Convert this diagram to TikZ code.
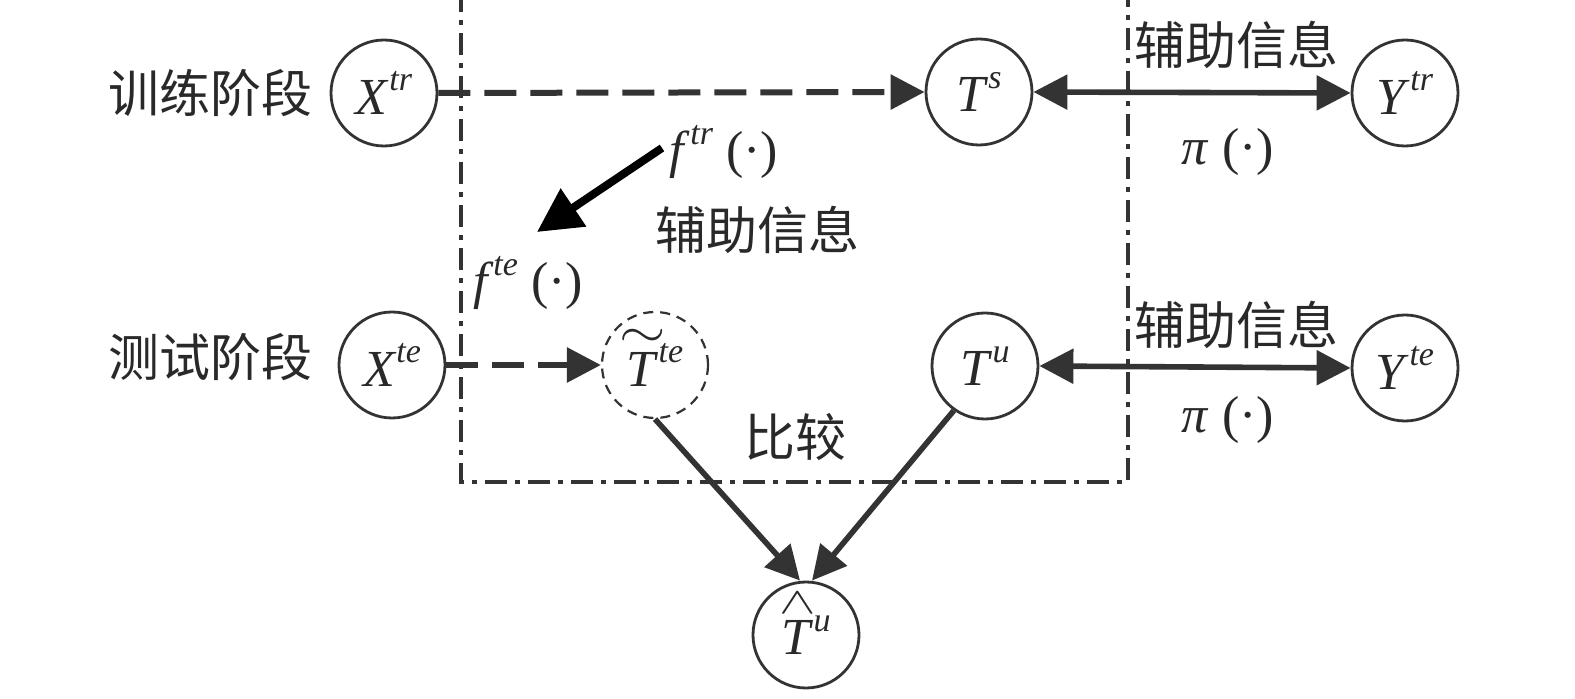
\documentclass[tikz,border=0pt]{standalone}
\usepackage{fontspec}
\setmainfont{Liberation Serif}
\newfontfamily\cjk{Noto Sans CJK SC}
\usetikzlibrary{arrows.meta}
\definecolor{lc}{RGB}{51,51,51}
\newcommand\lat{\fontsize{26}{30}\selectfont}
\newcommand\zh{\cjk\fontsize{25.5}{28}\selectfont}
\newcommand\supi[1]{\raisebox{0.45em}{\fontsize{17}{20}\selectfont\itshape #1}}
\newcommand\hatT{\ooalign{\textit{T}\cr\hidewidth\raisebox{0.78em}{\makebox[0pt]{\scalebox{1.1}[0.75]{$\wedge$}}}\hidewidth\cr}}
\newcommand\tilT{\ooalign{\textit{T}\cr\hidewidth\raisebox{0.74em}{\makebox[0pt]{\scalebox{1.2}[1]{$\sim$}}}\hidewidth\cr}}
\begin{document}
\begin{tikzpicture}[x=0.5pt,y=-0.5pt,
  st/.style={circle, draw=lc, line width=1.4pt, minimum size=53pt, inner sep=0pt, font=\lat, text=lc!80!black},
  dst/.style={st, dash pattern=on 5pt off 3.5pt, line width=1.1pt},
  tip/.style={-{Triangle[length=17pt,width=17pt]}},
  dtip/.style={{Triangle[length=17pt,width=17pt]}-{Triangle[length=17pt,width=17pt]}},
  arr/.style={draw=lc, line width=2.8pt, tip},
  darr/.style={arr, line width=3pt, dash pattern=on 16pt off 7pt},
  lab/.style={font=\zh, text=lc!80!black, inner sep=0pt},
  mlab/.style={font=\lat, text=lc!80!black, inner sep=0pt}]
\useasboundingbox (0,0) rectangle (1575,699);
% dash-dot frame
\draw[lc, line width=2pt, dash pattern=on 11pt off 4pt on 2.5pt off 4pt]
  (461,-10) -- (461,482) -- (1128,482) -- (1128,-10);
% nodes
\node[st] (xtr) at (384,93) {\textit{X}\supi{tr}};
\node[st] (ts) at (979,92) {\textit{T}\supi{s}};
\node[st] (ytr) at (1405,93) {\textit{Y}\supi{tr}};
\node[st] (xte) at (392,365) {\textit{X}\supi{te}};
\node[dst] (tt) at (655,365) {\tilT\supi{te}};
\node[st] (tu) at (985,366) {\textit{T}\supi{u}};
\node[st] (yte) at (1405,368) {\textit{Y}\supi{te}};
\node[st] (th) at (806,635) {\hatT\supi{u}};
% labels
\node[lab] (l1) at (210,93) {训练阶段};
\node[lab] (l2) at (210,357) {测试阶段};
\node[lab] (a1) at (1236,45) {辅助信息};
\node[lab] (a2) at (757,230) {辅助信息};
\node[lab] (a3) at (1236,325) {辅助信息};
\node[lab] (cmp) at (795,437) {比较};
\node[mlab] (p1) at (1228,152) {\textit{π} (·)};
\node[mlab] (p2) at (1228,420) {\textit{π} (·)};
\node[mlab] (ftr) at (724,152) {\textit{f}\supi{tr} (·)};
\node[mlab] (fte) at (528,283) {\textit{f}\supi{te} (·)};
% connectors
\draw[darr] (xtr.east) -- (ts.west);
\draw[arr, dtip] (ts.east) -- (ytr.west);
\draw[darr] (xte.east) -- (tt.west);
\draw[arr, dtip] (tu.east) -- (yte.west);
\draw[arr] (tt.south) -- ([xshift=-3pt]th.north);
\draw[arr] (tu.235) -- ([xshift=3pt]th.north);
\coordinate (fa) at (662,148);
\coordinate (fb) at (537,232);
\draw[black, line width=4pt, -{Triangle[length=22pt,width=22pt]}] (fa) -- (fb);
\end{tikzpicture}
\end{document}
